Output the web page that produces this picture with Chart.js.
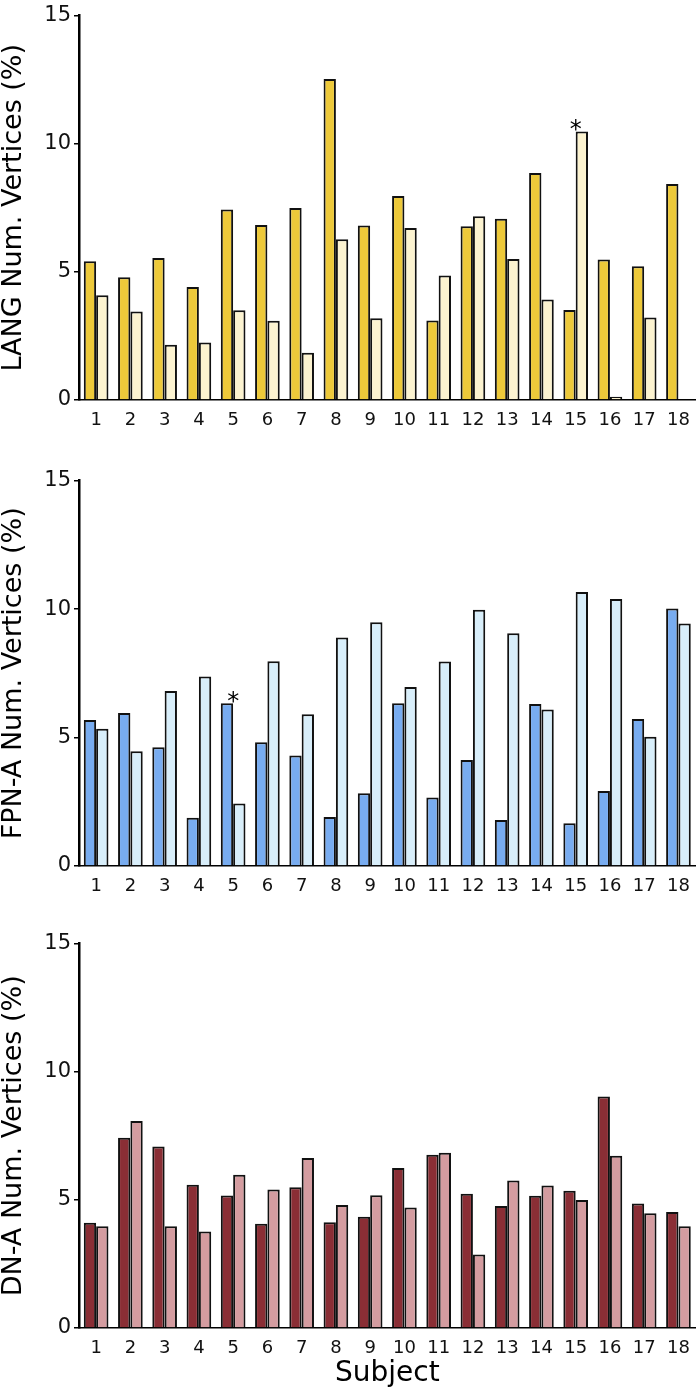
<!DOCTYPE html>
<html>
<head>
<meta charset="utf-8">
<script src="https://cdn.jsdelivr.net/npm/chart.js@4.4.1/dist/chart.umd.min.js"></script>
<style>
  body { margin: 0; background: #fff; width: 700px; height: 1389px; position: relative; overflow: hidden; }
  .panel { position: absolute; left: 0; width: 700px; }
</style>
</head>
<body>
<div class="panel" style="top:0px;height:440px"><canvas id="lang"></canvas></div>
<div class="panel" style="top:465px;height:441px"><canvas id="fpn"></canvas></div>
<div class="panel" style="top:928px;height:461px"><canvas id="dn"></canvas></div>
<script>
const subjects = ['1','2','3','4','5','6','7','8','9','10','11','12','13','14','15','16','17','18'];
const yTicks = [0, 5, 10, 15];

const langDark  = [5.41, 4.79, 5.54, 4.41, 7.43, 6.83, 7.49, 12.53, 6.81, 7.96, 3.10, 6.78, 7.07, 8.86, 3.51, 5.48, 5.22, 8.43];
const langLight = [4.09, 3.45, 2.16, 2.24, 3.50, 3.09, 1.84, 6.27, 3.19, 6.71, 4.86, 7.17, 5.50, 3.92, 10.48, 0.13, 3.22, 0.02];

const fpnDark  = [5.68, 5.95, 4.62, 1.88, 6.33, 4.82, 4.30, 1.91, 2.83, 6.33, 2.67, 4.13, 1.79, 6.31, 1.66, 2.92, 5.72, 10.02];
const fpnLight = [5.34, 4.47, 6.81, 7.38, 2.43, 7.97, 5.91, 8.89, 9.49, 6.97, 7.96, 9.97, 9.06, 6.09, 10.66, 10.39, 5.03, 9.44];

const dnDark  = [4.11, 7.42, 7.08, 5.59, 5.17, 4.07, 5.49, 4.13, 4.34, 6.24, 6.76, 5.24, 4.76, 5.16, 5.36, 9.03, 4.86, 4.53];
const dnLight = [3.97, 8.08, 3.97, 3.77, 5.98, 5.40, 6.63, 4.80, 5.18, 4.70, 6.84, 2.87, 5.76, 5.56, 4.99, 6.72, 4.48, 3.97];

// subjects marked with an asterisk
const langStars = ['15'];
const fpnStars = ['5'];
const dnStars = [];

const FONT = 'DejaVu Sans';

// draws the '*' above a subject's pair of bars
const starPlugin = {
    id: 'stars',
    afterDatasetsDraw(chart, args, opts) {
        const ctx = chart.ctx;
        const xs = chart.scales.x, ys = chart.scales.y;
        ctx.save();
        ctx.fillStyle = '#000';
        ctx.font = '24px "' + FONT + '"';
        ctx.textAlign = 'center';
        ctx.textBaseline = 'alphabetic';
        (opts.marks || []).forEach(function (s) {
            const i = subjects.indexOf(s);
            let top = 0;
            chart.data.datasets.forEach(function (d) { top = Math.max(top, d.data[i]); });
            ctx.fillText('*', xs.getPixelForValue(i), ys.getPixelForValue(top) + 6);
        });
        ctx.restore();
    }
};

function makeChart(id, title, dark, light, darkColor, lightColor, stars, showXTitle) {
    const ctx = document.getElementById(id).getContext('2d');
    return new Chart(ctx, {
        type: 'bar',
        data: {
            labels: subjects,
            datasets: [{
                data: dark,
                backgroundColor: darkColor,
                borderColor: '#111',
                borderWidth: 2
            }, {
                data: light,
                backgroundColor: lightColor,
                borderColor: '#111',
                borderWidth: 2
            }]
        },
        plugins: [starPlugin],
        options: {
            responsive: true,
            maintainAspectRatio: false,
            animation: false,
            layout: { padding: { top: 10, right: 4, left: 0, bottom: 0 } },
            datasets: { bar: { categoryPercentage: 0.72, barPercentage: 1.0 } },
            plugins: {
                legend: { display: false },
                tooltip: { enabled: false },
                stars: { marks: stars }
            },
            scales: {
                x: {
                    grid: { display: false, drawTicks: false },
                    border: { display: true, color: '#000', width: 1.5 },
                    ticks: { color: '#111', font: { family: FONT, size: 18 }, padding: 10, maxRotation: 0 },
                    title: {
                        display: showXTitle,
                        text: 'Subject',
                        color: '#000',
                        font: { family: FONT, size: 28, lineHeight: 1.1 },
                        padding: { top: 0, bottom: 0 }
                    },
                    afterFit: function (scale) { scale.height = showXTitle ? 61 : 40; }
                },
                y: {
                    min: 0,
                    max: 15,
                    afterBuildTicks: function (scale) { scale.ticks = yTicks.map(function (v) { return { value: v }; }); },
                    grid: { drawOnChartArea: false, drawTicks: true, tickLength: 5, color: '#000', lineWidth: 1.5 },
                    border: { display: true, color: '#000', width: 2.5 },
                    ticks: { color: '#111', font: { family: FONT, size: 21 }, padding: 3 },
                    title: {
                        display: true,
                        text: title,
                        color: '#000',
                        font: { family: FONT, size: 27, lineHeight: 1.0 },
                        padding: { top: 0, bottom: 0 }
                    },
                    afterFit: function (scale) { scale.width = 79; }
                }
            }
        }
    });
}

makeChart('lang', 'LANG Num. Vertices (%)', langDark, langLight, '#EDC93A', '#FCF3D0', langStars, false);
makeChart('fpn', 'FPN-A Num. Vertices (%)', fpnDark, fpnLight, '#78ACF0', '#D8EEFA', fpnStars, false);
makeChart('dn', 'DN-A Num. Vertices (%)', dnDark, dnLight, '#8A2E35', '#D49CA0', dnStars, true);
</script>
</body>
</html>
